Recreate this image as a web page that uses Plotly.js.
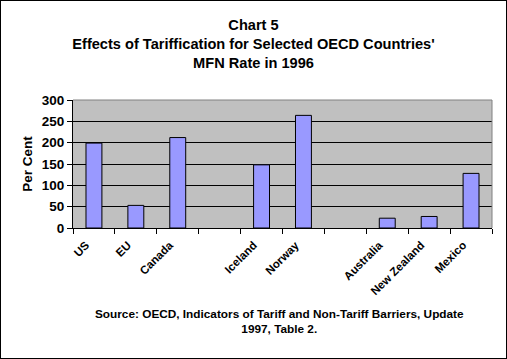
<!DOCTYPE html>
<html>
<head>
<meta charset="utf-8">
<script src="https://cdn.plot.ly/plotly-3.0.1.min.js"></script>
<style>
  html, body { margin: 0; padding: 0; background: #fff; }
  #chart { width: 505px; height: 357px; border: 1px solid #000; }
</style>
</head>
<body>
<div id="chart"></div>
<script>
// Categories (blank slots are gaps in the original chart)
const categories = ["US", "EU", "Canada", " ", "Iceland", "Norway", "  ", "Australia", "New Zealand", "Mexico"];
// MFN rate effects of tariffication, per cent (1996)
const perCent = [199, 53, 212, null, 148, 264, null, 23, 27, 128];
const yTicks = [0, 50, 100, 150, 200, 250, 300];

const titleText = "Chart 5<br>Effects of Tariffication for Selected OECD Countries'<br>MFN Rate in 1996";
const sourceText = "Source: OECD, Indicators of Tariff and Non-Tariff Barriers, Update<br>1997, Table 2.";

const FONT = "Liberation Sans, Arial, sans-serif";

const trace = {
  type: "bar",
  x: categories,
  y: perCent,
  marker: { color: "#9999FF", line: { color: "#000000", width: 1 } },
  hoverinfo: "x+y"
};

const layout = {
  width: 505,
  height: 357,
  margin: { l: 72, r: 14, t: 99, b: 130 },
  paper_bgcolor: "#FFFFFF",
  plot_bgcolor: "#C0C0C0",
  showlegend: false,
  bargap: 0.62,
  font: { family: FONT, size: 13, color: "#000000", weight: "bold" },
  title: {
    text: titleText,
    font: { family: FONT, size: 14.6, color: "#000000", weight: "bold" },
    x: 0.5, xref: "container", xanchor: "center",
    y: 1 - 29 / 357, yref: "container", yanchor: "top"
  },
  xaxis: {
    type: "category",
    categoryorder: "array",
    categoryarray: categories,
    tickson: "boundaries",
    ticks: "outside",
    ticklen: 5,
    tickcolor: "#000000",
    tickangle: -45,
    ticklabelshift: -8,
    ticklabelstandoff: 5,
    tickfont: { family: FONT, size: 11.5, color: "#000000", weight: "bold" },
    showline: true,
    linecolor: "#000000",
    linewidth: 1,
    showgrid: false,
    zeroline: false,
    fixedrange: true
  },
  yaxis: {
    range: [0, 300],
    tickvals: yTicks,
    ticktext: yTicks.map(String),
    ticks: "outside",
    ticklen: 5,
    tickcolor: "#000000",
    tickfont: { family: FONT, size: 13.5, color: "#000000", weight: "bold" },
    showline: true,
    linecolor: "#000000",
    linewidth: 1,
    showgrid: true,
    gridcolor: "#000000",
    gridwidth: 1,
    zeroline: false,
    title: {
      text: "Per Cent",
      font: { family: FONT, size: 13.5, color: "#000000", weight: "bold" },
      standoff: 6
    },
    fixedrange: true
  },
  shapes: [
    { type: "line", xref: "paper", yref: "paper", x0: 0, x1: 1, y0: 1, y1: 1,
      line: { color: "#808080", width: 1 }, layer: "above" },
    { type: "line", xref: "paper", yref: "paper", x0: 1, x1: 1, y0: 0, y1: 1,
      line: { color: "#808080", width: 1 }, layer: "above" }
  ],
  annotations: [
    {
      text: sourceText,
      xref: "paper", yref: "paper",
      x: 0.494, y: -0.727,
      xanchor: "center", yanchor: "middle",
      showarrow: false,
      align: "center",
      font: { family: FONT, size: 11.8, color: "#000000", weight: "bold" }
    }
  ]
};

Plotly.newPlot("chart", [trace], layout, { displayModeBar: false, staticPlot: true });
</script>
</body>
</html>
